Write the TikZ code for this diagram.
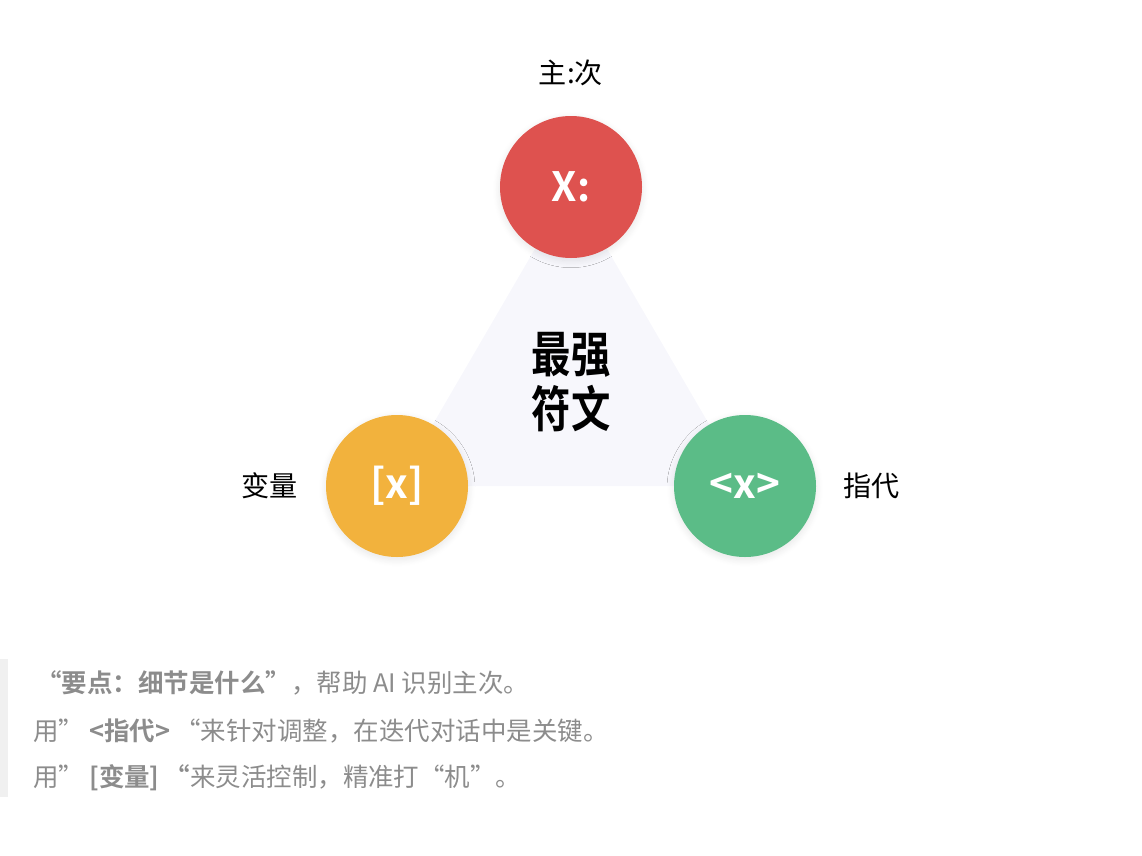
\documentclass[tikz,border=0pt]{standalone}
\usepackage{fontspec}
\setmainfont{Noto Sans CJK SC}
\newfontfamily\cjkbold{Noto Sans CJK SC Bold}
\newfontfamily\cjkcond[FakeStretch=0.8]{Noto Sans CJK SC Bold}
\usepackage{tikz}
\usetikzlibrary{positioning,calc,shadows.blur}
\usepackage{xcolor}
\definecolor{runered}{HTML}{DE524F}
\definecolor{runeorange}{HTML}{F2B23D}
\definecolor{runegreen}{HTML}{5BBC87}
\definecolor{trifill}{HTML}{F7F7FC}
\definecolor{notegrey}{HTML}{8C8C8C}
\definecolor{barGrey}{HTML}{F0F0F0}

\tikzset{
  rune/.style={circle, minimum size=142*0.02cm, inner sep=0pt, text=white,
    font=\cjkbold\fontsize{23}{23}\selectfont,
    blur shadow={shadow blur steps=10, shadow xshift=0pt, shadow yshift=-1.5pt,
      shadow blur radius=4pt, shadow opacity=10}},
  tag/.style={inner sep=0pt, font=\fontsize{16}{16}\selectfont, text=black},
  note/.style={anchor=west, inner sep=0pt, font=\fontsize{14.5}{14.5}\selectfont, text=notegrey}
}

\begin{document}
\begin{tikzpicture}[x=0.02cm,y=-0.02cm]
  \useasboundingbox (0,0) rectangle (1142,855);
  % corners of the triangle
  \coordinate (ptop) at (571,187);
  \coordinate (pleft) at (397,486);
  \coordinate (pright) at (745,486);
  \fill[trifill] (ptop) -- (pleft) -- (pright) -- cycle;
  % centre text
  \node[font=\cjkcond\fontsize{28}{31}\selectfont, align=center] (core) at (571,382) {最强\\符文};
  % circles
  \node[rune, fill=runered] (main) at (ptop) {X:};
  \node[rune, fill=runeorange] (var) at (pleft) {[x]};
  \node[rune, fill=runegreen] (ref) at (pright) {<x>};
  % labels
  \node[tag, above=29*0.02cm of main] (mainlbl) {主:次};
  \node[tag, left=28*0.02cm of var] (varlbl) {变量};
  \node[tag, right=27*0.02cm of ref] (reflbl) {指代};
  % notes
  \fill[barGrey] (0,659) rectangle (8,797);
  \node[note] (note1) at (36,683) {{\cjkbold “要点：细节是什么”}，帮助 AI 识别主次。};
  \node[note] (note2) at (33,731) {用”\hspace{0.2em}{\cjkbold <指代>}\hspace{0.2em}“来针对调整，在迭代对话中是关键。};
  \node[note] (note3) at (33,778) {用”\hspace{0.2em}{\cjkbold [变量]\hspace{0.2em}“}来灵活控制，精准打“机”。};
\end{tikzpicture}
\end{document}
